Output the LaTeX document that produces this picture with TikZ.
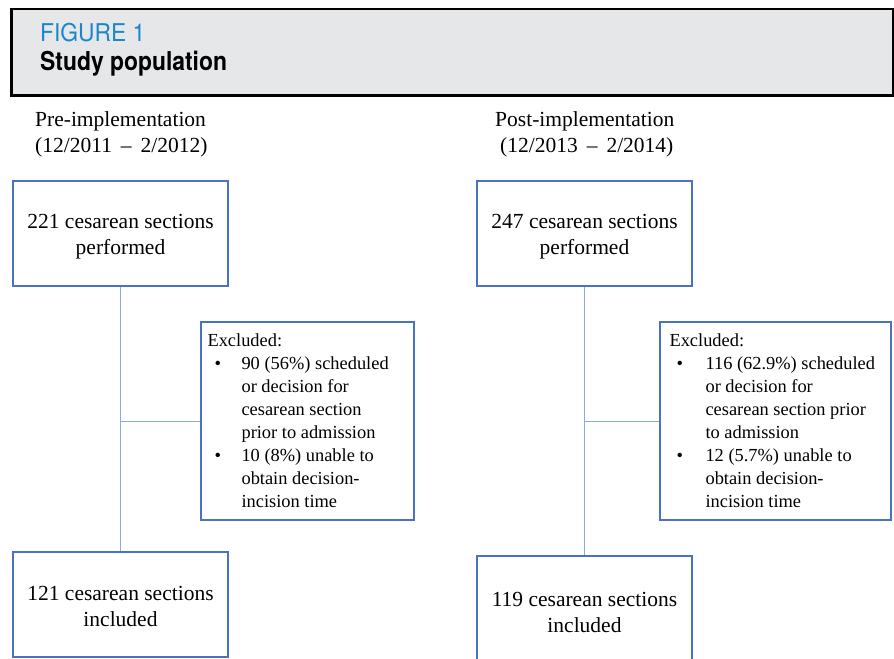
\documentclass[tikz,border=0pt]{standalone}
\usepackage{fontspec}
\setmainfont{Liberation Serif}
\newfontfamily\hdrfont[FakeStretch=0.93]{TeX Gyre Heros}
\newfontfamily\titlefont[FakeStretch=0.88]{TeX Gyre Heros}
\definecolor{boxblue}{HTML}{4A72C0}
\definecolor{lineblue}{HTML}{8EA9DB}
\definecolor{figblue}{HTML}{1A87CC}
\definecolor{hdrgrey}{HTML}{E6E7E8}
\tikzset{
  stepbox/.style={draw=boxblue, line width=1.3bp, minimum width=215bp, minimum height=105bp, inner sep=0pt, align=center, font=\fontsize{21.5bp}{26bp}\selectfont},
  exbox/.style={draw=boxblue, line width=1.3bp, inner sep=0pt, minimum height=198bp},
  extext/.style={anchor=west, inner sep=0pt, align=left, font=\fontsize{18.4bp}{23bp}\selectfont},
  conn/.style={draw=lineblue, line width=1bp},
  phase/.style={anchor=base west, inner sep=0pt, font=\fontsize{21.5bp}{26bp}\selectfont, align=left},
}
\newcommand{\bul}[1]{\makebox[#1][l]{\hspace{7bp}\textbullet}}
\newcommand{\ind}[1]{\hspace*{#1}}
\newcommand{\topstrut}{\rule{0pt}{21.5bp}}
\begin{document}
\begin{tikzpicture}[x=1bp,y=-1bp]
\useasboundingbox (0,0) rectangle (894,659);
% header
\node[draw=black, fill=hdrgrey, line width=2.5bp, minimum width=882bp, minimum height=86bp, inner sep=0pt, anchor=north west] (hdr) at (10,8) {};
\node[anchor=base west, inner sep=0pt, text=figblue, font=\hdrfont\fontsize{24.5bp}{28bp}\selectfont] (fig) at (40,42) {FIGURE 1};
\node[anchor=base west, inner sep=0pt, font=\titlefont\bfseries\fontsize{26bp}{28bp}\selectfont] (title) at (40,71) {Study population};
% phase labels
\node[phase] (pre1) at (35,127) {Pre-implementation};
\node[phase] (pre2) at (35,153) {(12/2011 \,--\, 2/2012)};
\node[phase] (post1) at (495,127) {Post-implementation};
\node[phase] (post2) at (500,153) {(12/2013 \,--\, 2/2014)};
% left column
\node[stepbox] (l1) at (120.5,233.5) {\topstrut221 cesarean sections\\performed};
\node[stepbox] (l2) at (120.5,604.5) {\rule{0pt}{18.5bp}121 cesarean sections\\included};
\node[exbox, minimum width=213bp] (lx) at (307.5,421) {};
\node[extext] (lxt) at ([xshift=7bp]lx.west) {Excluded:\\
\bul{34bp}90 (56\%) scheduled\\
\ind{34bp}or decision for\\
\ind{34bp}cesarean section\\
\ind{34bp}prior to admission\\
\bul{34bp}10 (8\%) unable to\\
\ind{34bp}obtain decision-\\
\ind{34bp}incision time};
\coordinate (lj) at (l1.south |- lx.west);
\draw[conn] (l1.south) -- (l2.north);
\draw[conn] (lj) -- (lx.west);
% right column
\node[stepbox] (r1) at (584.5,233.5) {\topstrut247 cesarean sections\\performed};
\node[stepbox] (r2) at (584.5,608.5) {\topstrut119 cesarean sections\\included};
\node[exbox, minimum width=231bp] (rx) at (775.5,421) {};
\node[extext] (rxt) at ([xshift=10bp]rx.west) {Excluded:\\
\bul{36bp}116 (62.9\%) scheduled\\
\ind{36bp}or decision for\\
\ind{36bp}cesarean section prior\\
\ind{36bp}to admission\\
\bul{36bp}12 (5.7\%) unable to\\
\ind{36bp}obtain decision-\\
\ind{36bp}incision time};
\coordinate (rj) at (r1.south |- rx.west);
\draw[conn] (r1.south) -- (r2.north);
\draw[conn] (rj) -- (rx.west);
\end{tikzpicture}
\end{document}
